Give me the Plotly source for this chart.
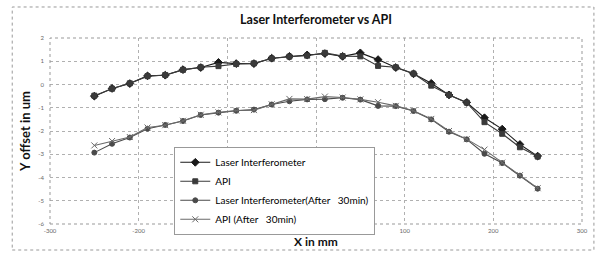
import plotly.graph_objects as go

x_mm = [-250, -230, -210, -190, -170, -150, -130, -110, -90, -70, -50, -30, -10,
        10, 30, 50, 70, 90, 110, 130, 150, 170, 190, 210, 230, 250]

laser = [-0.50, -0.17, 0.04, 0.37, 0.40, 0.64, 0.73, 0.95, 0.90, 0.90, 1.13, 1.21, 1.27,
         1.33, 1.21, 1.36, 1.07, 0.73, 0.46, 0.05, -0.45, -0.77, -1.43, -1.92, -2.58, -3.08]
api = [-0.48, -0.18, 0.05, 0.36, 0.41, 0.63, 0.74, 0.79, 0.88, 0.91, 1.12, 1.20, 1.24,
       1.36, 1.22, 1.21, 0.80, 0.74, 0.47, -0.05, -0.44, -0.78, -1.62, -2.12, -2.70, -3.10]
laser_30 = [-2.93, -2.55, -2.28, -1.90, -1.74, -1.57, -1.31, -1.21, -1.13, -1.08, -0.86, -0.72, -0.64,
            -0.63, -0.57, -0.65, -0.92, -0.93, -1.14, -1.50, -2.03, -2.36, -2.98, -3.38, -3.92, -4.48]
api_30 = [-2.62, -2.43, -2.26, -1.85, -1.75, -1.56, -1.30, -1.20, -1.12, -1.10, -0.85, -0.62, -0.63,
          -0.52, -0.56, -0.64, -0.76, -0.92, -1.13, -1.48, -2.00, -2.35, -2.80, -3.36, -3.90, -4.46]

names = ["Laser Interferometer", "API",
         "Laser Interferometer(After   30min)", "API (After   30min)"]

x_ticks = [-300, -200, -100, 0, 100, 200, 300]
y_ticks = [-6, -5, -4, -3, -2, -1, 0, 1, 2]

fig = go.Figure()
styles = [
    (laser, "#1a1a1a", "diamond", 6),
    (api, "#3a3a3a", "square", 5),
    (laser_30, "#4a4a4a", "circle", 5),
    (api_30, "#6a6a6a", "x-thin-open", 6),
]
for (ys, col, sym, sz), nm in zip(styles, names):
    fig.add_trace(go.Scatter(
        x=x_mm, y=ys, name=nm, mode="lines+markers",
        line=dict(color=col, width=1.1),
        marker=dict(symbol=sym, size=sz, color=col,
                    line=dict(color=col, width=1)),
    ))

font_main = "Lato, Liberation Sans, sans-serif"

fig.update_layout(
    width=600, height=255,
    margin=dict(l=50, r=15, t=38, b=31),
    paper_bgcolor="white", plot_bgcolor="white",
    font=dict(family=font_main, color="#222222"),
    title=dict(text="<b>Laser Interferometer vs API</b>", x=0.5, xref="paper",
               y=0.925, yref="container", xanchor="center", yanchor="middle",
               font=dict(size=12.5, color="#111111")),
    showlegend=True,
    legend=dict(x=0.2336, y=0.415, xanchor="left", yanchor="top",
                bgcolor="white", bordercolor="#999999", borderwidth=1,
                font=dict(size=10, color="#000000"), itemwidth=30,
                tracegroupgap=0),
    xaxis=dict(range=[-300, 300], tickvals=x_ticks, ticktext=[str(v) for v in x_ticks],
               showgrid=True, gridcolor="#b0b0b0", griddash="dot", gridwidth=1,
               zeroline=False, showline=False, ticks="",
               tickfont=dict(size=6, color="#666666"), ticklabelstandoff=2,
               title=dict(text="<b>X in mm</b>", font=dict(size=12, color="#111111"),
                          standoff=1)),
    yaxis=dict(range=[-6, 2], tickvals=y_ticks, ticktext=[str(v) for v in y_ticks],
               showgrid=True, gridcolor="#b0b0b0", griddash="dot", gridwidth=1,
               zeroline=False, showline=False, ticks="",
               tickfont=dict(size=6, color="#666666"), ticklabelstandoff=5,
               title=dict(text="<b>Y offset in um</b>", font=dict(size=13, color="#111111"),
                          standoff=4)),
    shapes=[
        dict(type="rect", xref="paper", yref="paper", x0=0, x1=1, y0=0, y1=1,
             line=dict(color="#999999", width=1, dash="dot"), layer="above"),
        dict(type="rect", xref="paper", yref="paper", x0=-0.071, x1=1.0224,
             y0=-0.1398, y1=1.1667,
             line=dict(color="#999999", width=1, dash="dot"), layer="below"),
    ],
)

fig.write_html("out.html", config={"displayModeBar": False},
               post_script="document.body.style.margin='0';document.body.style.padding='0';")
